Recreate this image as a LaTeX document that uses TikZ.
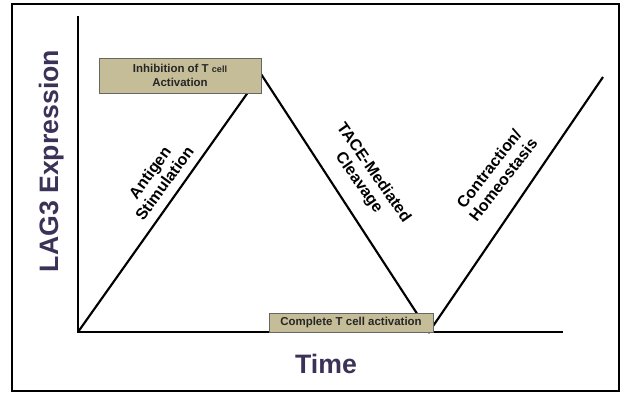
\documentclass[tikz,border=0pt]{standalone}
\usepackage{fontspec}
\setmainfont{Liberation Sans}
\usepackage{xcolor}
\usetikzlibrary{positioning}
\definecolor{boxtan}{RGB}{196,189,151}
\definecolor{axisink}{RGB}{60,50,88}

\begin{document}
\begin{tikzpicture}[x=0.75pt, y=-0.75pt,
	tanbox/.style={draw=black!60, line width=0.6pt, fill=boxtan, inner sep=0pt, align=center, text=black!85, font=\bfseries\fontsize{8.6}{10}\selectfont},
	phase/.style={align=center, font=\bfseries\fontsize{12}{13.5}\selectfont},
	axlabel/.style={text=axisink, anchor=base, font=\bfseries\fontsize{20}{24}\selectfont}]

	\useasboundingbox (0,0) rectangle (620,392);
	\draw[line width=1.5pt] (12,4) rectangle (619,391);

	% axes
	\coordinate (origin) at (78,332);
	\coordinate (ytop) at (78,16);
	\coordinate (xend) at (563,332);
	\draw[line width=2.2pt] (ytop) -- (origin) -- (xend);

	% expression curve
	\coordinate (peak) at (261,74);
	\coordinate (trough) at (429,332);
	\coordinate (rise) at (603,77);
	\draw[line width=1.6pt] (origin) -- (peak) -- (trough) -- (rise);

	\node[tanbox, minimum width=121.5pt, minimum height=26.25pt] (inhib) at (180,75.5)
		{Inhibition of T {\fontsize{6.8}{8}\selectfont cell}\\Activation};
	\node[tanbox, minimum width=123pt, minimum height=14.25pt] (complete) at (351,322.5)
		{Complete T cell activation};

	\node[phase, rotate=54] (antigen) at (157,178) {Antigen\\Stimulation};
	\node[phase, rotate=-55] (tace) at (366,178) {TACE-Mediated\\Cleavage};
	\node[phase, rotate=52] (contract) at (496,174) {Contraction/\\Homeostasis};

	\node[axlabel, rotate=90] (ylab) at (58,161) {LAG3 Expression};
	\node[axlabel] (xlab) at (326,373) {Time};
\end{tikzpicture}
\end{document}
